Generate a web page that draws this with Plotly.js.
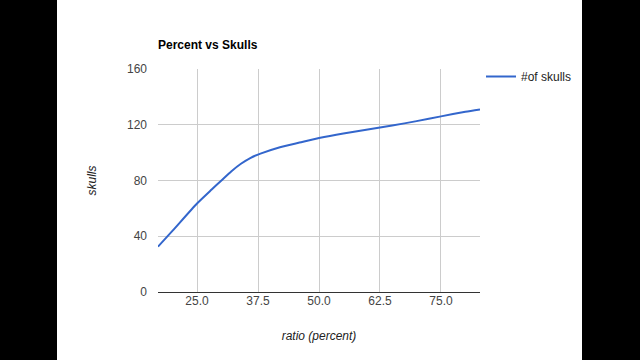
<!DOCTYPE html>
<html>
<head>
<meta charset="utf-8">
<script src="https://cdn.plot.ly/plotly-3.0.1.min.js"></script>
<style>
  html, body { margin: 0; padding: 0; background: #000; width: 640px; height: 360px; overflow: hidden; }
  #chart { position: absolute; left: 57px; top: 0; width: 525px; height: 360px; background: #fff; }
</style>
</head>
<body>
<div id="chart"></div>
<script>
const ratioPercent = [17, 20, 25, 28, 30, 32, 34, 36, 38, 42, 46, 50, 55, 60, 65, 70, 75, 80, 83];
const skulls = [32.5, 44, 63.5, 73.5, 80, 86.5, 92, 96.3, 99.3, 103.9, 107.2, 110.5, 113.8, 116.6, 119.4, 122.6, 126, 129.3, 131];
const xTickVals = [25, 37.5, 50, 62.5, 75];
const xTickText = ["25.0", "37.5", "50.0", "62.5", "75.0"];
const yTickVals = [0, 40, 80, 120, 160];
const seriesName = "#of skulls";

const font = "Liberation Sans, Arial, sans-serif";

const trace = {
  x: ratioPercent,
  y: skulls,
  type: "scatter",
  mode: "lines",
  name: seriesName,
  line: { color: "#3366cc", width: 2, shape: "spline", smoothing: 0.6 },
  hoverinfo: "x+y"
};

const layout = {
  width: 525,
  height: 360,
  margin: { l: 101, r: 102, t: 69, b: 68, autoexpand: false },
  paper_bgcolor: "#ffffff",
  plot_bgcolor: "#ffffff",
  font: { family: font, size: 12, color: "#444" },
  title: {
    text: "<b>Percent vs Skulls</b>",
    font: { family: font, size: 12, color: "#000" },
    xref: "paper", x: 0, xanchor: "left",
    yref: "container", y: 1 - 45 / 360, yanchor: "middle"
  },
  showlegend: true,
  legend: {
    xref: "container", x: (481 - 57) / 525, xanchor: "left",
    yref: "container", y: 1 - 62 / 360, yanchor: "top",
    font: { family: font, size: 12, color: "#222" },
    itemwidth: 30,
    bgcolor: "rgba(0,0,0,0)"
  },
  xaxis: {
    range: [Math.min(...ratioPercent), Math.max(...ratioPercent)],
    tickvals: xTickVals,
    ticktext: xTickText,
    showgrid: true,
    gridcolor: "#cccccc",
    gridwidth: 1,
    zeroline: false,
    showline: false,
    ticks: "",
    tickfont: { family: font, size: 12, color: "#444" },
    title: { text: "<i>ratio (percent)</i>", font: { family: font, size: 12, color: "#222" }, standoff: 24 }
  },
  yaxis: {
    range: [0, 160],
    tickvals: yTickVals,
    ticktext: yTickVals.map(String),
    showgrid: true,
    gridcolor: "#cccccc",
    gridwidth: 1,
    zeroline: true,
    zerolinecolor: "#333333",
    zerolinewidth: 1,
    showline: false,
    ticks: "",
    ticklabelstandoff: 10,
    tickfont: { family: font, size: 12, color: "#444" },
    title: { text: "<i>skulls</i>", font: { family: font, size: 12, color: "#222" }, standoff: 27 }
  }
};

Plotly.newPlot("chart", [trace], layout, { displayModeBar: false, staticPlot: true });
</script>
</body>
</html>
